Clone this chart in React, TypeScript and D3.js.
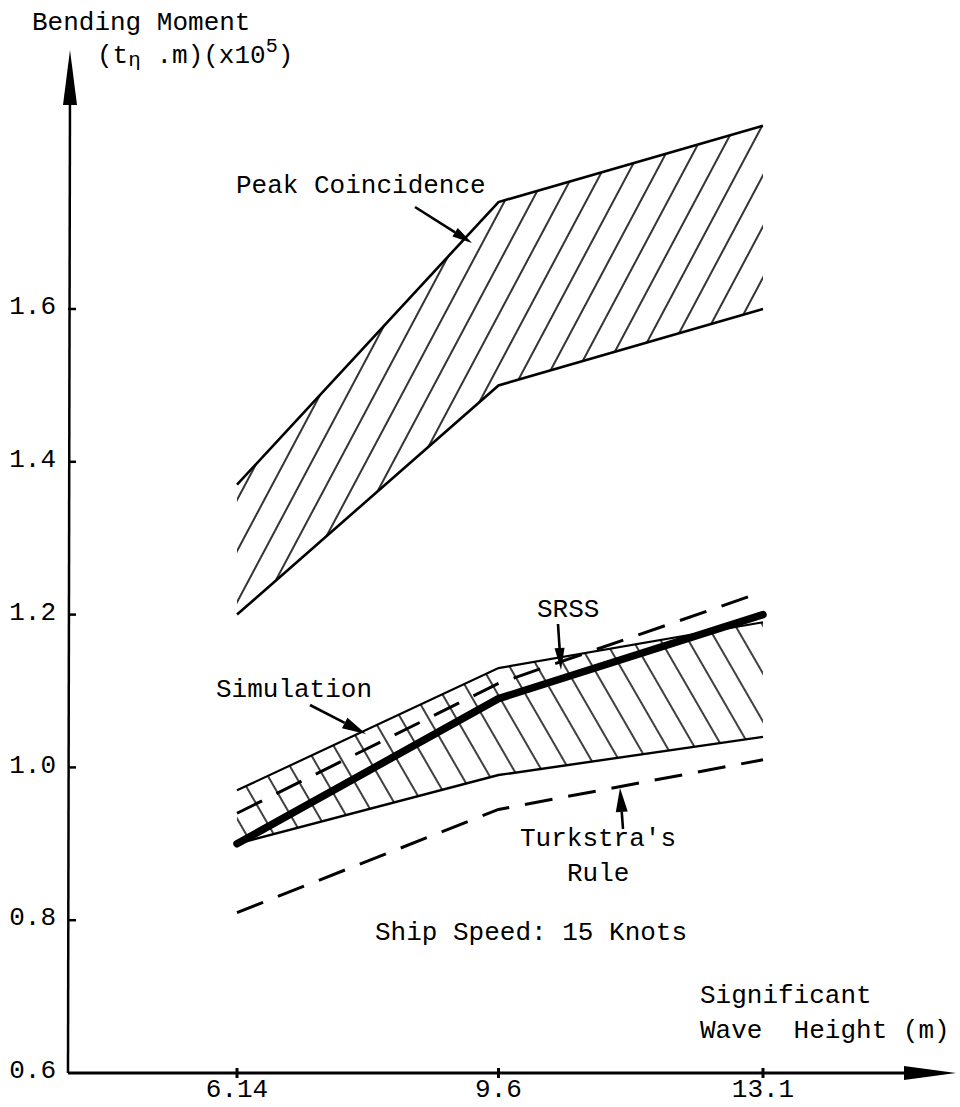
import React from "react";
import * as d3 from "d3";

// ---- data ----
const waveHeights = [6.14, 9.6, 13.1];
const peakUpper = [1.37, 1.74, 1.84];
const peakLower = [1.2, 1.5, 1.6];
const simUpper = [0.97, 1.13, 1.19];
const simLower = [0.9, 0.99, 1.04];
const srss = [0.9, 1.09, 1.2];
const upperDashed = [0.94, 1.11, 1.23];
const turkstra = [0.81, 0.945, 1.01];
const yTicks = [0.6, 0.8, 1.0, 1.2, 1.4, 1.6];
const yTickLabels = ["0.6", "0.8", "1.0", "1.2", "1.4", "1.6"];
const xTicks = [6.14, 9.6, 13.1];
const xTickLabels = ["6.14", "9.6", "13.1"];

const W = 960;
const H = 1107;
const FONT = "'Liberation Mono', 'Courier New', monospace";

const x = d3.scaleLinear().domain([6.14, 13.1]).range([237, 763]);
const y = d3.scaleLinear().domain([0.6, 1.6]).range([1073, 309]);

const originX = 68;
const originY = y(0.6);
const xAxisEnd = 956;
const yAxisTop = 50;

type Pt = { w: number; v: number };
const pts = (vals: number[]): Pt[] => waveHeights.map((w, i) => ({ w, v: vals[i] }));
const band = (lo: number[], hi: number[]) =>
  waveHeights.map((w, i) => ({ w, lo: lo[i], hi: hi[i] }));

const line = d3
  .line<Pt>()
  .x((d) => x(d.w))
  .y((d) => y(d.v));
const area = d3
  .area<{ w: number; lo: number; hi: number }>()
  .x((d) => x(d.w))
  .y0((d) => y(d.lo))
  .y1((d) => y(d.hi));

function Arrow({ x1, y1, x2, y2, len = 20, half = 5, sw = 2.6 }: any) {
  const a = Math.atan2(y2 - y1, x2 - x1);
  const bx = x2 - len * Math.cos(a);
  const by = y2 - len * Math.sin(a);
  const px = -Math.sin(a) * half;
  const py = Math.cos(a) * half;
  return (
    <g>
      <line x1={x1} y1={y1} x2={bx} y2={by} stroke="#000" strokeWidth={sw} />
      <path d={`M${x2},${y2}L${bx + px},${by + py}L${bx - px},${by - py}Z`} fill="#000" />
    </g>
  );
}

export default function App() {
  const txt = { fontFamily: FONT, fontSize: 26, fill: "#000" } as const;
  return (
    <svg
      width={W}
      height={H}
      viewBox={`0 0 ${W} ${H}`}
      style={{ position: "absolute", left: 0, top: 0, background: "#fff" }}
    >
      <defs>
        <pattern id="hatchPeak" width={24} height={24} patternUnits="userSpaceOnUse" patternTransform="rotate(28)">
          <line x1={12} y1={0} x2={12} y2={24} stroke="#000" strokeWidth={1.6} />
        </pattern>
        <pattern id="hatchSim" width={24} height={24} patternUnits="userSpaceOnUse" patternTransform="rotate(-30)">
          <line x1={12} y1={0} x2={12} y2={24} stroke="#000" strokeWidth={1.5} />
        </pattern>
      </defs>
      <rect width={W} height={H} fill="#fff" />

      {/* Peak coincidence band */}
      <path d={area(band(peakLower, peakUpper)) || ""} fill="url(#hatchPeak)" stroke="none" />
      <path d={line(pts(peakUpper)) || ""} fill="none" stroke="#000" strokeWidth={2.6} />
      <path d={line(pts(peakLower)) || ""} fill="none" stroke="#000" strokeWidth={2.6} />

      {/* Simulation band */}
      <path d={area(band(simLower, simUpper)) || ""} fill="url(#hatchSim)" stroke="none" />
      <path d={line(pts(simUpper)) || ""} fill="none" stroke="#000" strokeWidth={2.2} />
      <path d={line(pts(simLower)) || ""} fill="none" stroke="#000" strokeWidth={2.4} />

      {/* dashed lines */}
      <path d={line(pts(upperDashed)) || ""} fill="none" stroke="#000" strokeWidth={3} strokeDasharray="28 16" />
      <path d={line(pts(turkstra)) || ""} fill="none" stroke="#000" strokeWidth={3} strokeDasharray="28 16" />

      {/* SRSS thick */}
      <path d={line(pts(srss)) || ""} fill="none" stroke="#000" strokeWidth={7.5} strokeLinecap="round" strokeLinejoin="round" />

      {/* axes */}
      <line x1={originX} y1={originY} x2={originX + 2} y2={yAxisTop + 40} stroke="#000" strokeWidth={2.5} />
      <path d={`M${originX + 2},${yAxisTop}L${originX + 9},${yAxisTop + 55}L${originX - 5},${yAxisTop + 55}Z`} fill="#000" />
      <line x1={originX} y1={originY} x2={xAxisEnd - 40} y2={originY} stroke="#000" strokeWidth={3} />
      <path d={`M${xAxisEnd},${originY}L${xAxisEnd - 52},${originY - 7}L${xAxisEnd - 52},${originY + 7}Z`} fill="#000" />

      {yTicks.map((t, i) => (
        <g key={`yt${i}`}>
          {i > 0 && <line x1={originX} y1={y(t)} x2={originX + 8} y2={y(t)} stroke="#000" strokeWidth={2.5} />}
          <text x={56} y={y(t) - 4} dy="0.35em" textAnchor="end" style={txt}>
            {yTickLabels[i]}
          </text>
        </g>
      ))}
      {xTicks.map((t, i) => (
        <g key={`xt${i}`}>
          <line x1={x(t)} y1={originY - 5} x2={x(t)} y2={originY + 5} stroke="#000" strokeWidth={3} />
          <text x={x(t)} y={originY + 24} textAnchor="middle" style={txt}>
            {xTickLabels[i]}
          </text>
        </g>
      ))}

      {/* axis titles */}
      <text x={32} y={30} style={txt}>Bending Moment</text>
      <text x={97} y={63} style={txt}>
        (t<tspan fontSize={21} dy={3}>η</tspan>
        <tspan dy={-3}> .m)(x10</tspan>
        <tspan fontSize={20} dy={-11}>5</tspan>
        <tspan dy={11}>)</tspan>
      </text>
      <text x={700} y={1003} style={txt}>Significant</text>
      <text x={700} y={1038} style={txt} xmlSpace="preserve">Wave  Height (m)</text>

      {/* annotations */}
      <text x={236} y={193} style={txt}>Peak Coincidence</text>
      <Arrow x1={415} y1={207} x2={472} y2={243} />
      <text x={216} y={697} style={txt}>Simulation</text>
      <Arrow x1={310} y1={705} x2={366} y2={734} len={24} half={6} />
      <text x={537} y={617} style={txt}>SRSS</text>
      <Arrow x1={558} y1={624} x2={561} y2={670} len={22} half={5} />
      <text x={520} y={846} style={txt}>Turkstra's</text>
      <text x={567} y={881} style={txt}>Rule</text>
      <Arrow x1={623} y1={829} x2={620} y2={788} len={24} half={6} />
      <text x={375} y={940} style={txt}>Ship Speed: 15 Knots</text>
    </svg>
  );
}
